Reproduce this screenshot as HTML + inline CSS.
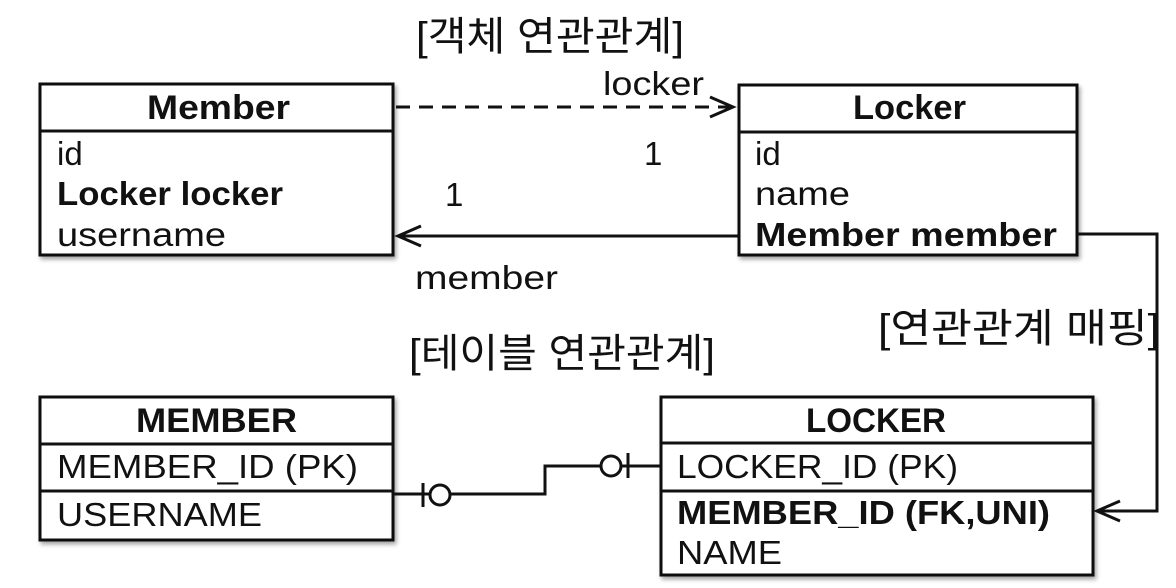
<!DOCTYPE html>
<html><head><meta charset="utf-8"><style>
html,body{margin:0;padding:0;background:#fff;width:1176px;height:588px;overflow:hidden}
text{font-family:"Liberation Sans","Noto Sans CJK KR",sans-serif;fill:#111}
</style></head><body>
<svg width="1176" height="588" viewBox="0 0 1176 588" xmlns="http://www.w3.org/2000/svg">
<defs><filter id="sh" x="-5%" y="-5%" width="115%" height="120%"><feDropShadow dx="2" dy="3" stdDeviation="2" flood-color="#000" flood-opacity="0.35"/></filter></defs>
<g stroke="#111" stroke-width="3" fill="#fff">
<rect x="40" y="84" width="353" height="171" filter="url(#sh)"/>
<line x1="40" y1="131" x2="393" y2="131"/>
<rect x="739" y="85" width="338" height="170" filter="url(#sh)"/>
<line x1="739" y1="132" x2="1077" y2="132"/>
<rect x="40" y="397" width="353" height="143" filter="url(#sh)"/>
<line x1="40" y1="444" x2="393" y2="444"/>
<line x1="40" y1="491" x2="393" y2="491"/>
<rect x="661" y="397" width="432" height="178" filter="url(#sh)"/>
<line x1="661" y1="443" x2="1093" y2="443"/>
<line x1="661" y1="491" x2="1093" y2="491"/>
</g>
<g stroke="#111" stroke-width="3" fill="none">
<line x1="396" y1="107" x2="733" y2="107" stroke-dasharray="14,9"/>
<polyline points="710,97 733,107 710,117"/>
<line x1="398" y1="236" x2="739" y2="236"/>
<polyline points="421,226 398,236 421,246"/>
<polyline points="1077,234 1157,234 1157,511 1097,511"/>
<polyline points="1120,501 1097,511 1120,521"/>
<polyline points="393,494 545,494 545,466 661,466"/>
<line x1="423" y1="483" x2="423" y2="507"/>
<circle cx="440" cy="495" r="10" fill="#fff"/>
<line x1="628" y1="453" x2="628" y2="478"/>
<circle cx="611" cy="466" r="10" fill="#fff"/>
</g>
<g font-size="33" lengthAdjust="spacingAndGlyphs">
<text x="416" y="50" font-size="40" textLength="268" lengthAdjust="spacingAndGlyphs">[객체 연관관계]</text>
<text x="603" y="95" textLength="101" lengthAdjust="spacingAndGlyphs">locker</text>
<text x="644" y="165">1</text>
<text x="445" y="206">1</text>
<text x="415" y="289" textLength="143" lengthAdjust="spacingAndGlyphs">member</text>
<text x="878" y="342" font-size="40" textLength="282" lengthAdjust="spacingAndGlyphs">[연관관계 매핑]</text>
<text x="409" y="367" font-size="40" textLength="306" lengthAdjust="spacingAndGlyphs">[테이블 연관관계]</text>
<text x="147" y="119" font-weight="bold" font-size="34" textLength="143" lengthAdjust="spacingAndGlyphs">Member</text>
<text x="57" y="165">id</text>
<text x="57" y="205" font-weight="bold" textLength="226" lengthAdjust="spacingAndGlyphs">Locker locker</text>
<text x="57" y="246" textLength="169" lengthAdjust="spacingAndGlyphs">username</text>
<text x="853" y="119" font-weight="bold" font-size="34" textLength="113" lengthAdjust="spacingAndGlyphs">Locker</text>
<text x="755" y="165">id</text>
<text x="755" y="205" textLength="95" lengthAdjust="spacingAndGlyphs">name</text>
<text x="755" y="246" font-weight="bold" textLength="302" lengthAdjust="spacingAndGlyphs">Member member</text>
<text x="136" y="432" font-weight="bold" font-size="34" textLength="161" lengthAdjust="spacingAndGlyphs">MEMBER</text>
<text x="57" y="478" textLength="301" lengthAdjust="spacingAndGlyphs">MEMBER_ID (PK)</text>
<text x="57" y="526" textLength="205" lengthAdjust="spacingAndGlyphs">USERNAME</text>
<text x="806" y="432" font-weight="bold" font-size="34" textLength="140" lengthAdjust="spacingAndGlyphs">LOCKER</text>
<text x="677" y="478" textLength="281" lengthAdjust="spacingAndGlyphs">LOCKER_ID (PK)</text>
<text x="677" y="524" font-weight="bold" textLength="373" lengthAdjust="spacingAndGlyphs">MEMBER_ID (FK,UNI)</text>
<text x="677" y="564" textLength="105" lengthAdjust="spacingAndGlyphs">NAME</text>
</g>
</svg>
</body></html>
